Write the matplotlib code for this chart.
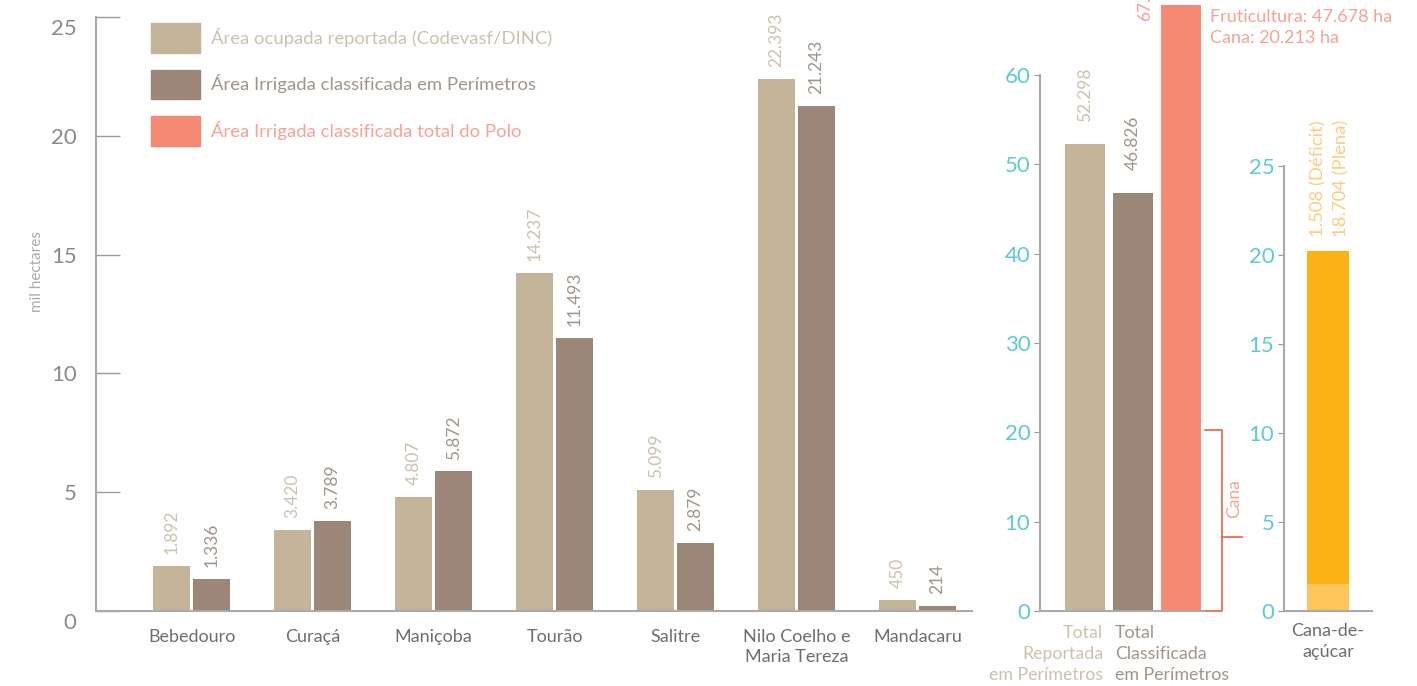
"""Irrigated area by perimeter, Polo Petrolina/Juazeiro."""

import matplotlib
matplotlib.use("Agg")
import matplotlib.pyplot as plt
from matplotlib.patches import Patch
from matplotlib.transforms import ScaledTranslation, blended_transform_factory

plt.rcParams["font.family"] = ["Lato", "DejaVu Sans"]

# data (mil hectares)
perimetros = ["Bebedouro", "Curaçá", "Maniçoba", "Tourão", "Salitre",
              "Nilo Coelho e\nMaria Tereza", "Mandacaru"]
area_reportada = [1.892, 3.420, 4.807, 14.237, 5.099, 22.393, 0.450]
area_classificada = [1.336, 3.789, 5.872, 11.493, 2.879, 21.243, 0.214]
rotulos_reportada = ["1.892", "3.420", "4.807", "14.237", "5.099", "22.393", "450"]
rotulos_classificada = ["1.336", "3.789", "5.872", "11.493", "2.879", "21.243", "214"]

totais = [52.298, 46.826, 67.891]
rotulos_totais = ["52.298", "46.826", "67.891"]
fruticultura = 47.678
cana_total = 20.213

cana_deficit = 1.508
cana_plena = 18.704

TAN = "#c4b49a"
BROWN = "#9b8677"
SALMON = "#f58973"
BRACKET = "#f26a4c"
ORANGE = "#fbb216"
LIGHT_ORANGE = "#fdc55a"
TEAL = "#5ecad4"
TAN_TXT = "#cdc1ae"
BROWN_TXT = "#a39489"
SALMON_TXT = "#f6a394"
ORANGE_TXT = "#fdcd80"
GRAY = "#999999"
LABEL_GRAY = "#6e6e6e"

fig = plt.figure(figsize=(14.17, 6.86), dpi=100)
W, H = 1417, 686


def axes_px(left, right, bottom, top):
    return fig.add_axes([left / W, 1 - bottom / H, (right - left) / W, (bottom - top) / H])


# ---- panel 1: per perimeter ----
ax1 = axes_px(96, 972, 611, 17)
x = list(range(len(perimetros)))
bw = 0.31
off = 0.165
ax1.bar([i - off for i in x], area_reportada, bw, color=TAN)
ax1.bar([i + off for i in x], area_classificada, bw, color=BROWN)
for i in x:
    ax1.text(i - off, area_reportada[i] + 0.5, rotulos_reportada[i], rotation=90,
             ha="center", va="bottom", fontsize=12.5, color=TAN_TXT)
    ax1.text(i + off, area_classificada[i] + 0.5, rotulos_classificada[i], rotation=90,
             ha="center", va="bottom", fontsize=12.5, color=BROWN_TXT)

ax1.set_xlim(-0.79, 6.45)
ax1.set_ylim(0, 25)
yt = [0, 5, 10, 15, 20, 25]
ax1.set_yticks(yt)
ax1.set_yticklabels([str(v) for v in yt])
ax1.set_xticks(x)
ax1.set_xticklabels(perimetros, fontsize=13, color=LABEL_GRAY, linespacing=1.3)
ax1.tick_params(axis="x", length=0, pad=13)
ax1.tick_params(axis="y", direction="in", length=17, width=1, color=GRAY,
                labelsize=16, labelcolor="#8a8a8a", pad=14)
# end labels sit a little lower than their ticks
shift = ScaledTranslation(0, -10 / 100, fig.dpi_scale_trans)
ticks = ax1.yaxis.get_major_ticks()
for tk in (ticks[0], ticks[-1]):
    tk.label1.set_transform(tk.label1.get_transform() + shift)
for s in ["top", "right"]:
    ax1.spines[s].set_visible(False)
for s in ["left", "bottom"]:
    ax1.spines[s].set_color("#aaaaaa")
    ax1.spines[s].set_linewidth(1.5)
fig.text(37 / W, 1 - 272 / H, "mil hectares", rotation=90, ha="center", va="center",
         fontsize=11, color="#aaaaaa")

handles = [Patch(color=TAN), Patch(color=BROWN), Patch(color=SALMON)]
leg = ax1.legend(handles, ["Área ocupada reportada (Codevasf/DINC)",
                           "Área Irrigada classificada em Perímetros",
                           "Área Irrigada classificada total do Polo"],
                 loc="upper left", bbox_to_anchor=(151 / W, 1 - 23 / H),
                 bbox_transform=fig.transFigure, frameon=False, fontsize=13.3,
                 handlelength=2.65, handleheight=2.1, handletextpad=0.62,
                 labelspacing=0.92, borderpad=0, borderaxespad=0)
for t, c in zip(leg.get_texts(), [TAN_TXT, BROWN_TXT, SALMON_TXT]):
    t.set_color(c)

# ---- panel 2: totals ----
ax2 = axes_px(1040, 1260, 611, 0)
x2 = [0, 1, 2]
ax2.bar(x2, totais, 0.83, color=[TAN, BROWN, SALMON])
ax2.text(0, totais[0] + 2.5, rotulos_totais[0], rotation=90, ha="center", va="bottom",
         fontsize=12.5, color=TAN_TXT)
ax2.text(1, totais[1] + 2.5, rotulos_totais[1], rotation=90, ha="center", va="bottom",
         fontsize=12.5, color=BROWN_TXT)
ax2.text(1.25, totais[2] - 1.8, rotulos_totais[2], rotation=90, ha="center", va="bottom",
         fontsize=12.5, color=SALMON_TXT, clip_on=False)
ax2.set_xlim(-0.9375, 3.65)
ax2.set_ylim(0, 68.4)
ax2.set_yticks([0, 10, 20, 30, 40, 50, 60])
ax2.tick_params(axis="y", direction="out", length=4, color=GRAY, labelsize=16,
                labelcolor=TEAL, pad=3)
ax2.set_xticks([])
for s in ["top", "right"]:
    ax2.spines[s].set_visible(False)
ax2.spines["left"].set_bounds(0, 60)
ax2.spines["bottom"].set_bounds(-0.9375, 2.5)
for s in ["left", "bottom"]:
    ax2.spines[s].set_color("#aaaaaa")
    ax2.spines[s].set_linewidth(1.5)

trans2 = blended_transform_factory(ax2.transData, fig.transFigure)
ax2.text(0.38, 1 - 625 / H, "Total\nReportada\nem Perímetros", ha="right", va="top",
         fontsize=12.8, color=TAN_TXT, linespacing=1.4, transform=trans2)
ax2.text(0.62, 1 - 625 / H, "Total\nClassificada\nem Perímetros", ha="left", va="top",
         fontsize=12.8, color=BROWN_TXT, linespacing=1.4, transform=trans2)

# cana bracket
xb = 2.854
ax2.plot([2.5, xb, xb, 2.5], [cana_total, cana_total, 0, 0], color=BRACKET,
         lw=1.3, clip_on=False)
ax2.plot([xb, 3.27], [8.3, 8.3], color=BRACKET, lw=1.3, clip_on=False)
ax2.text(3.12, 12.6, "Cana", rotation=90, ha="center", va="center", fontsize=12.5,
         color=SALMON_TXT)

fig.text(1210 / W, 1 - 17 / H, f"Fruticultura: {fruticultura:.3f} ha", ha="left",
         va="center", fontsize=13, color=SALMON_TXT)
fig.text(1210 / W, 1 - 38 / H, f"Cana: {cana_total:.3f} ha", ha="left",
         va="center", fontsize=13, color=SALMON_TXT)

# ---- panel 3: cana-de-açúcar ----
ax3 = axes_px(1284, 1372, 611, 166)
ax3.bar([0], [cana_deficit], 0.466, color=LIGHT_ORANGE)
ax3.bar([0], [cana_plena], 0.466, bottom=[cana_deficit], color=ORANGE)
top3 = cana_deficit + cana_plena
ax3.text(-0.11, top3 + 0.8, "1.508 (Déficit)", rotation=90, ha="center", va="bottom",
         fontsize=13.3, color=ORANGE_TXT)
ax3.text(0.15, top3 + 0.8, "18.704 (Plena)", rotation=90, ha="center", va="bottom",
         fontsize=13.3, color=ORANGE_TXT)
ax3.set_xlim(-0.5, 0.5)
ax3.set_ylim(0, 25)
ax3.set_yticks([0, 5, 10, 15, 20, 25])
ax3.tick_params(axis="y", direction="out", length=4, color=GRAY, labelsize=16,
                labelcolor=TEAL, pad=3)
ax3.set_xticks([0])
ax3.set_xticklabels(["Cana-de-\naçúcar"], fontsize=13, color=LABEL_GRAY,
                    linespacing=1.35)
ax3.tick_params(axis="x", length=0, pad=9)
for s in ["top", "right"]:
    ax3.spines[s].set_visible(False)
for s in ["left", "bottom"]:
    ax3.spines[s].set_color("#aaaaaa")
    ax3.spines[s].set_linewidth(1.5)

fig.savefig("out.png", dpi=100)
